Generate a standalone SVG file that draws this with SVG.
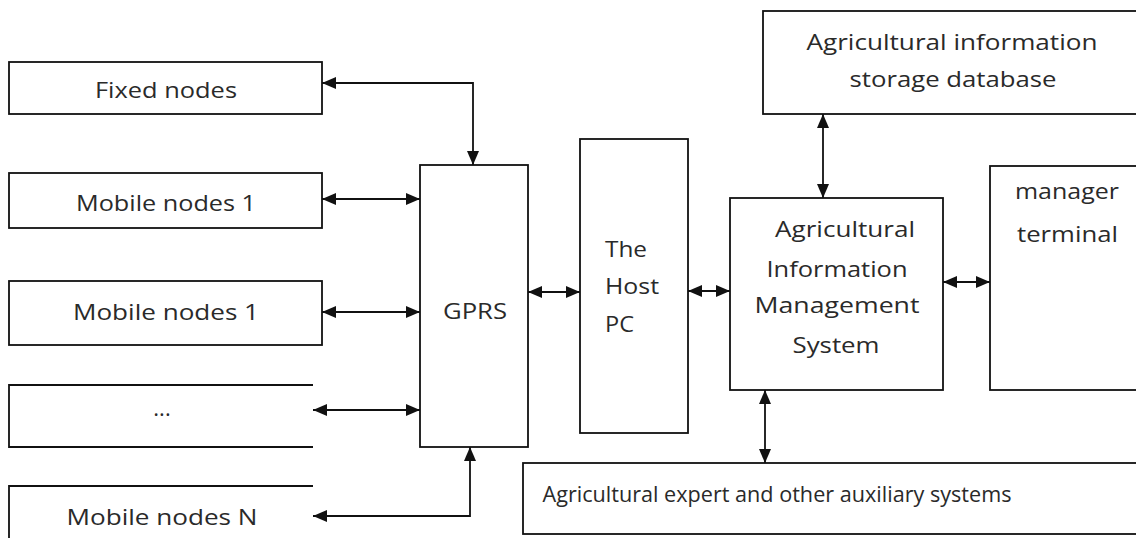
<svg xmlns="http://www.w3.org/2000/svg" width="1136" height="538" viewBox="0 0 1136 538">
  <style>
    .box { fill: #ffffff; stroke: #111111; stroke-width: 1.8; }
    .edge { fill: none; stroke: #111111; stroke-width: 1.8; }
    .link { fill: none; stroke: #111111; stroke-width: 1.8; marker-start: url(#head); marker-end: url(#head); }
    text { font-family: "Open Sans", "Liberation Sans", sans-serif; fill: #2a2a2a; font-size: 22px; }
    .mid { text-anchor: middle; }
  </style>
  <defs>
    <marker id="head" viewBox="0 0 14 12" refX="14" refY="6" markerWidth="14" markerHeight="12" markerUnits="userSpaceOnUse" orient="auto-start-reverse">
      <path d="M0,0 L14,6 L0,12 Z" fill="#111111"/>
    </marker>
  </defs>

  <rect width="1136" height="538" fill="#ffffff"/>

  <!-- field nodes on the left -->
  <g id="fixed-nodes">
    <rect class="box" x="9" y="62" width="313" height="52"/>
    <text x="166" y="98" class="mid" font-size="18" textLength="142" lengthAdjust="spacingAndGlyphs">Fixed nodes</text>
  </g>
  <g id="mobile-nodes-1a">
    <rect class="box" x="9" y="173" width="313" height="55"/>
    <text x="166" y="211" class="mid" textLength="180" lengthAdjust="spacingAndGlyphs">Mobile nodes 1</text>
  </g>
  <g id="mobile-nodes-1b">
    <rect class="box" x="9" y="281" width="313" height="64"/>
    <text x="166" y="320" class="mid" textLength="186" lengthAdjust="spacingAndGlyphs">Mobile nodes 1</text>
  </g>
  <g id="more-nodes">
    <path class="edge" d="M313,385 H9 V447 H313"/>
    <text x="162" y="416" class="mid" font-size="18">...</text>
  </g>
  <g id="mobile-nodes-n">
    <path class="edge" d="M313,486 H9 V540"/>
    <text x="162" y="525" class="mid" textLength="191" lengthAdjust="spacingAndGlyphs">Mobile nodes N</text>
  </g>

  <!-- transport and host -->
  <g id="gprs">
    <rect class="box" x="420" y="165" width="108" height="282"/>
    <text x="475" y="319" class="mid" textLength="64" lengthAdjust="spacingAndGlyphs">GPRS</text>
  </g>
  <g id="host-pc">
    <rect class="box" x="580" y="139" width="108" height="294"/>
    <text x="605" y="257" textLength="42" lengthAdjust="spacingAndGlyphs">The</text>
    <text x="605" y="294" textLength="54" lengthAdjust="spacingAndGlyphs">Host</text>
    <text x="605" y="332" textLength="29" lengthAdjust="spacingAndGlyphs">PC</text>
  </g>

  <!-- management side -->
  <g id="aims">
    <rect class="box" x="730" y="198" width="213" height="192"/>
    <text x="845" y="237" class="mid" textLength="140" lengthAdjust="spacingAndGlyphs">Agricultural</text>
    <text x="837" y="277" class="mid" textLength="141" lengthAdjust="spacingAndGlyphs">Information</text>
    <text x="837" y="313" class="mid" textLength="165" lengthAdjust="spacingAndGlyphs">Management</text>
    <text x="836" y="353" class="mid" textLength="87" lengthAdjust="spacingAndGlyphs">System</text>
  </g>
  <g id="storage-db">
    <rect class="box" x="763" y="11" width="400" height="103"/>
    <text x="952" y="50" class="mid" textLength="291" lengthAdjust="spacingAndGlyphs">Agricultural information</text>
    <text x="953" y="87" class="mid" textLength="207" lengthAdjust="spacingAndGlyphs">storage database</text>
  </g>
  <g id="manager-terminal">
    <rect class="box" x="990" y="166" width="180" height="224"/>
    <text x="1015" y="199" textLength="104" lengthAdjust="spacingAndGlyphs">manager</text>
    <text x="1017" y="242" textLength="101" lengthAdjust="spacingAndGlyphs">terminal</text>
  </g>
  <g id="expert-systems">
    <rect class="box" x="523" y="463" width="640" height="71"/>
    <text x="777" y="502" class="mid" textLength="469" lengthAdjust="spacingAndGlyphs">Agricultural expert and other auxiliary systems</text>
  </g>

  <!-- two-way connectors -->
  <g id="connectors">
    <path class="link" d="M322,83 H473 V165"/>
    <path class="link" d="M322,199 H420"/>
    <path class="link" d="M322,312 H420"/>
    <path class="link" d="M313,410 H420"/>
    <path class="link" d="M470,447 V516 H313"/>
    <path class="link" d="M528,292 H580"/>
    <path class="link" d="M688,291 H730"/>
    <path class="link" d="M943,282 H990"/>
    <path class="link" d="M823,114 V198"/>
    <path class="link" d="M765,390 V463"/>
  </g>
</svg>
